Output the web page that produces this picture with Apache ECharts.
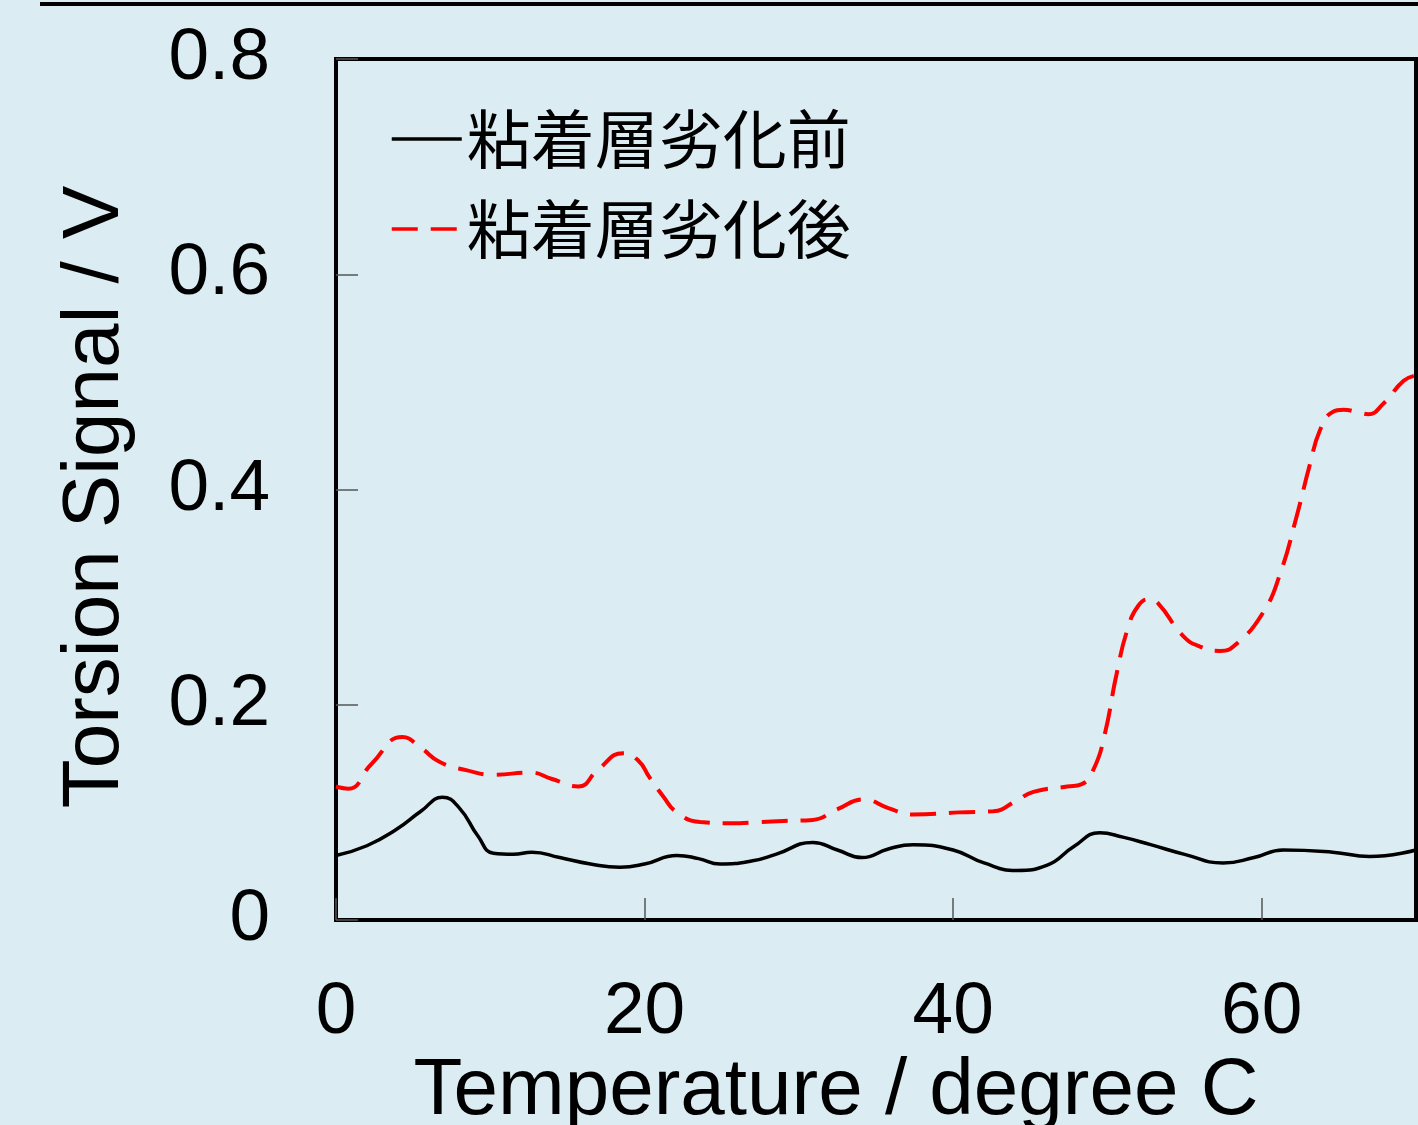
<!DOCTYPE html>
<html>
<head>
<meta charset="utf-8">
<script src="https://cdn.jsdelivr.net/npm/echarts@6/dist/echarts.min.js"></script>
<style>
  html, body { margin: 0; padding: 0; background: #dbedf3; }
  #chart { width: 1418px; height: 1125px; }
</style>
</head>
<body>
<div id="chart"></div>
<script>
// Torsion signal vs. temperature, before / after adhesive-layer degradation
const seriesNames = ['粘着層劣化前', '粘着層劣化後'];
const xTicks = [0, 20, 40, 60];
const yTicks = [0, 0.2, 0.4, 0.6, 0.8];

// [temperature (°C), torsion signal (V)]
const before = [
  [0, 0.060], [2, 0.069], [3.9, 0.084], [5.5, 0.101], [6.9, 0.114], [8, 0.104],
  [9.2, 0.078], [10.2, 0.062], [11.5, 0.061], [12.7, 0.063], [14.5, 0.058],
  [16.5, 0.052], [18.4, 0.049], [20, 0.052], [22.1, 0.060], [23.5, 0.057],
  [24.9, 0.052], [27, 0.055], [28.5, 0.061], [30.9, 0.072], [32.5, 0.065],
  [34.1, 0.058], [35.8, 0.066], [37.4, 0.070], [40, 0.065], [42, 0.053],
  [44.1, 0.046], [46.1, 0.051], [47.8, 0.068], [49.5, 0.081], [51, 0.077],
  [52.8, 0.070], [55, 0.061], [57.5, 0.053], [59.5, 0.058], [61.4, 0.065],
  [64.6, 0.063], [67, 0.059], [70, 0.065]
];

const after = [
  [0, 0.124], [0.8, 0.122], [2.3, 0.145], [4.3, 0.170], [5.5, 0.160], [6.7, 0.147],
  [8.5, 0.139], [10.2, 0.135], [12.6, 0.137], [14, 0.131], [15.7, 0.124],
  [17, 0.140], [18.6, 0.155], [19.6, 0.148], [20.3, 0.133], [21.2, 0.115],
  [22.1, 0.100], [23.6, 0.091], [25.5, 0.090], [27.5, 0.091], [29, 0.092],
  [30.9, 0.093], [32.5, 0.103], [34.2, 0.112], [35.8, 0.104], [37.4, 0.098],
  [40.4, 0.100], [42.6, 0.101], [44, 0.110], [45.2, 0.119], [47.4, 0.124],
  [48.3, 0.126], [49.1, 0.140], [49.8, 0.171], [50.6, 0.229], [51.3, 0.270],
  [52, 0.292], [52.7, 0.298], [53.3, 0.294], [54.9, 0.264], [56, 0.254],
  [57.3, 0.250], [58.4, 0.257], [60.1, 0.286], [61.2, 0.322], [62.3, 0.377],
  [63.1, 0.422], [63.8, 0.456], [64.6, 0.472], [65.3, 0.474], [66.2, 0.472],
  [66.9, 0.470], [67.9, 0.480], [69.2, 0.501], [70, 0.506]
];

const latin = '"Liberation Sans", Arial, sans-serif';
const cjk = '"Noto Sans CJK JP", "Noto Sans CJK SC", sans-serif';

const chart = echarts.init(document.getElementById('chart'), null, { renderer: 'canvas' });

chart.setOption({
  backgroundColor: '#dbedf3',
  animation: false,
  grid: {
    left: 336, top: 59, right: 2, bottom: 205,
    show: true, borderColor: '#000', borderWidth: 4, backgroundColor: 'transparent'
  },
  legend: {
    orient: 'vertical',
    left: 385,
    top: 102,
    itemWidth: 70,
    itemHeight: 64,
    itemGap: 26,
    data: seriesNames,
    itemStyle: { opacity: 0 },
    lineStyle: { width: 3.5 },
    textStyle: { fontFamily: cjk, fontSize: 64, color: '#000' }
  },
  xAxis: {
    type: 'value',
    min: 0, max: 70, interval: 20,
    axisLine: { show: false },
    splitLine: { show: false },
    axisTick: { show: true, inside: true, length: 22, lineStyle: { color: '#555', width: 1.5 } },
    axisLabel: {
      margin: 56,
      showMaxLabel: false,
      fontFamily: latin, fontSize: 73, color: '#000',
      formatter: v => (xTicks.includes(v) ? String(v) : '')
    }
  },
  yAxis: {
    type: 'value',
    min: 0, max: 0.8, interval: 0.2,
    axisLine: { show: false },
    splitLine: { show: false },
    axisTick: { show: true, inside: true, length: 22, lineStyle: { color: '#555', width: 1.5 } },
    axisLabel: {
      margin: 66,
      fontFamily: latin, fontSize: 73, color: '#000',
      formatter: v => {
        const t = yTicks.find(y => Math.abs(y - v) < 1e-9);
        return t === undefined ? '' : (t === 0 ? '0' : t.toFixed(1));
      }
    }
  },
  series: [
    {
      name: seriesNames[0],
      type: 'line',
      data: before,
      symbol: 'circle',
      showSymbol: false,
      smooth: 0.5,
      lineStyle: { color: '#000', width: 3.5 },
      itemStyle: { color: '#000' }
    },
    {
      name: seriesNames[1],
      type: 'line',
      data: after,
      symbol: 'circle',
      showSymbol: false,
      smooth: 0.5,
      lineStyle: { color: '#ff0000', width: 4, type: [26, 13] },
      itemStyle: { color: '#ff0000' }
    }
  ],
  graphic: [
    {
      type: 'line',
      shape: { x1: 40, y1: 4, x2: 1418, y2: 4 },
      style: { stroke: '#000', lineWidth: 4 },
      silent: true
    },
    {
      type: 'text',
      x: 836, y: 1092,
      style: {
        text: 'Temperature / degree C',
        font: '80px "Liberation Sans", Arial, sans-serif',
        fill: '#000', textAlign: 'center', textVerticalAlign: 'middle'
      },
      silent: true
    },
    {
      type: 'text',
      x: 96, y: 497,
      rotation: Math.PI / 2,
      style: {
        text: 'Torsion Signal / V',
        font: '80px "Liberation Sans", Arial, sans-serif',
        fill: '#000', textAlign: 'center', textVerticalAlign: 'middle'
      },
      silent: true
    }
  ]
});
</script>
</body>
</html>
